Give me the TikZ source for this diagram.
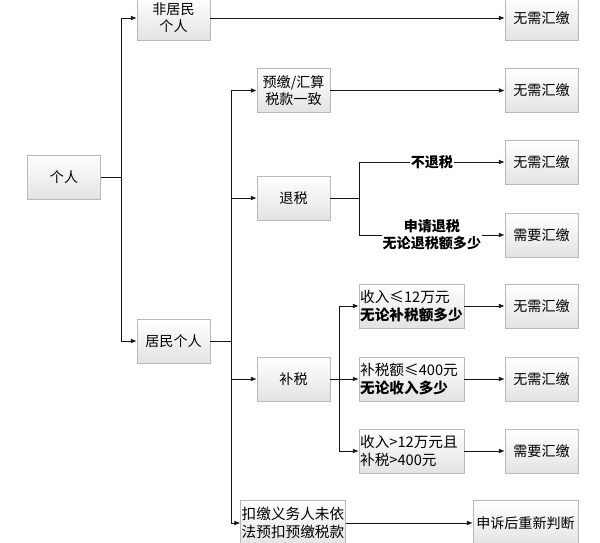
\documentclass[tikz,border=0pt]{standalone}
\usepackage{fontspec}
\setmainfont{Noto Sans CJK SC}
\usetikzlibrary{arrows.meta,shadows}
\tikzset{
  box/.style={draw=gray!55, top color=white, bottom color=gray!22, minimum width=2.19cm, minimum height=1.31cm,
    align=center, inner sep=1pt, font=\fontsize{12}{14.5}\selectfont,
    drop shadow={shadow xshift=0.7pt, shadow yshift=-0.7pt, opacity=0.25}},
  condbox/.style={box, text width=3.08cm, align=left, font=\fontsize{12.5}{15.5}\selectfont},
  cut/.style={fill=white, inner sep=1pt, align=center, font=\bfseries\fontsize{12}{14.5}\selectfont},
  line/.style={draw=gray!15!black, line width=0.7pt}
}
\begin{document}
\begin{tikzpicture}[x=0.03cm, y=-0.03cm, >={Latex[length=5pt,width=4pt]}]
  \useasboundingbox (0,0) rectangle (600,543);
  % first level
  \node[box] (ind) at (64,177) {个人};
  \node[box] (nonres) at (173.5,18) {非居民\\个人};
  \node[box] (res) at (173.5,341) {居民个人};
  % second level
  \node[box] (consist) at (293.5,90.5) {预缴/汇算\\税款一致};
  \node[box] (refund) at (293.5,198) {退税};
  \node[box] (supp) at (293.5,379) {补税};
  \node[box, minimum width=3.12cm, minimum height=1.38cm, font=\fontsize{12.5}{15.5}\selectfont] (wh) at (293,523) {扣缴义务人未依\\法预扣预缴税款};
  % conditions of 补税
  \node[condbox] (c1) at (411.5,306) {收入≤12万元\\\textbf{无论补税额多少}};
  \node[condbox] (c2) at (411.5,379) {补税额≤400元\\\textbf{无论收入多少}};
  \node[condbox] (c3) at (411.5,451) {收入>12万元且\\补税>400元};
  % results
  \node[box] (r1) at (541.5,18) {无需汇缴};
  \node[box] (r2) at (541.5,90.5) {无需汇缴};
  \node[box] (r3) at (541.5,162) {无需汇缴};
  \node[box] (r4) at (541.5,235) {需要汇缴};
  \node[box] (r5) at (541.5,306) {无需汇缴};
  \node[box] (r6) at (541.5,379) {无需汇缴};
  \node[box] (r7) at (541.5,451) {需要汇缴};
  \node[box, minimum width=3.15cm, minimum height=1.38cm] (appeal) at (525.5,523) {申诉后重新判断};
  % branch points
  \coordinate (b1) at (121,177);
  \coordinate (b2) at (231,341);
  \coordinate (b3) at (359,198);
  \coordinate (b4) at (339,379);
  % connectors
  \draw[line] (ind) -- (b1);
  \draw[line,->] (b1) |- (nonres);
  \draw[line,->] (b1) |- (res);
  \draw[line,->] (nonres) -- (r1);
  \draw[line] (res) -- (b2);
  \draw[line,->] (b2) |- (consist);
  \draw[line,->] (b2) |- (refund);
  \draw[line,->] (b2) |- (supp);
  \draw[line,->] (b2) |- (wh);
  \draw[line,->] (consist) -- (r2);
  \draw[line] (refund) -- (b3);
  \draw[line,->] (b3) |- node[cut, pos=0.75] {不退税} (r3);
  \draw[line,->] (b3) |- node[cut, pos=0.75] {申请退税\\无论退税额多少} (r4);
  \draw[line,->] (b4) |- (c1);
  \draw[line,->] (supp) -- (c2);
  \draw[line,->] (b4) |- (c3);
  \draw[line,->] (c1) -- (r5);
  \draw[line,->] (c2) -- (r6);
  \draw[line,->] (c3) -- (r7);
  \draw[line,->] (wh) -- (appeal);
\end{tikzpicture}
\end{document}
